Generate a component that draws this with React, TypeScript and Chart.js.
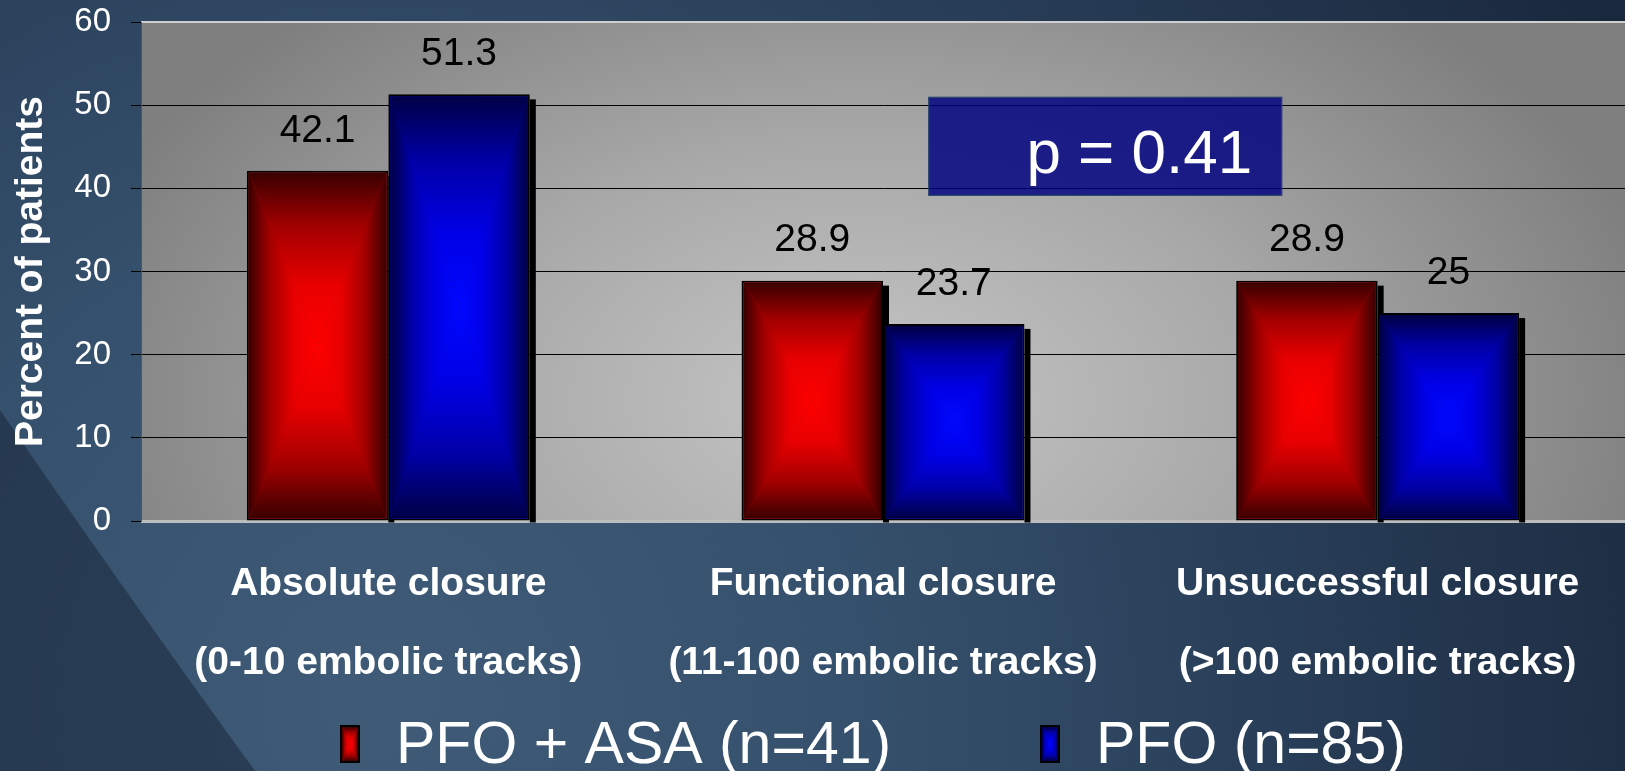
import React, { useEffect, useRef } from 'react';
import { Chart, registerables } from 'chart.js';

Chart.register(...registerables);

// ---------- data ----------
const categories: string[][] = [
  ['Absolute closure', '(0-10 embolic tracks)'],
  ['Functional closure', '(11-100 embolic tracks)'],
  ['Unsuccessful closure', '(>100 embolic tracks)'],
];
const seriesLabels = ['PFO + ASA (n=41)', 'PFO (n=85)'];
const pfoAsaValues = [42.1, 28.9, 28.9];
const pfoValues = [51.3, 23.7, 25];
const yTicks = [0, 10, 20, 30, 40, 50, 60];
const yAxisTitle = 'Percent of patients';
const pValueText = 'p = 0.41';

// ---------- styles ----------
const FONT = "'Liberation Sans', Arial, Helvetica, sans-serif";
const W = 1625;
const H = 771;

const PALETTES = [
  { edge: '#3a0000', mid: '#a00000', inner: '#e80000', center: '#ff0000', solid: '#c00000' },
  { edge: '#000046', mid: '#0000a6', inner: '#0000e6', center: '#0008ff', solid: '#0000c0' },
];

function rectGradient(ctx: CanvasRenderingContext2D, l: number, t: number, r: number, b: number, pal: any) {
  const cx = (l + r) / 2;
  const cy = (t + b) / 2;
  const addStops = (g: CanvasGradient) => {
    g.addColorStop(0, pal.edge);
    g.addColorStop(0.3, pal.mid);
    g.addColorStop(0.65, pal.inner);
    g.addColorStop(1, pal.center);
    return g;
  };
  ctx.save();
  ctx.fillStyle = pal.mid;
  ctx.fillRect(l, t, r - l, b - t);
  const tris: [number, number, number, number, number, number, number, number][] = [
    [l, t, r, t, cx, t, cx, cy],
    [l, b, r, b, cx, b, cx, cy],
    [l, t, l, b, l, cy, cx, cy],
    [r, t, r, b, r, cy, cx, cy],
  ];
  for (const [x1, y1, x2, y2, gx0, gy0, gx1, gy1] of tris) {
    ctx.beginPath();
    ctx.moveTo(x1, y1);
    ctx.lineTo(x2, y2);
    ctx.lineTo(cx, cy);
    ctx.closePath();
    ctx.fillStyle = addStops(ctx.createLinearGradient(gx0, gy0, gx1, gy1));
    ctx.fill();
  }
  ctx.restore();
}

function barRect(el: any) {
  const p = el.getProps(['x', 'y', 'base', 'width'], true);
  return {
    left: p.x - p.width / 2,
    right: p.x + p.width / 2,
    top: Math.min(p.y, p.base),
    bottom: Math.max(p.y, p.base),
    x: p.x,
  };
}

const backgroundPlugin = {
  id: 'slideBackground',
  beforeDraw(chart: any) {
    const { ctx, width, height, chartArea: a } = chart;
    ctx.save();
    const g = ctx.createRadialGradient(380, 700, 0, 380, 700, 1400);
    g.addColorStop(0, '#3f5b77');
    g.addColorStop(0.35, '#35506c');
    g.addColorStop(0.65, '#283d57');
    g.addColorStop(1, '#1a283d');
    ctx.fillStyle = g;
    ctx.fillRect(0, 0, width, height);
    ctx.beginPath();
    ctx.moveTo(0, 410);
    ctx.quadraticCurveTo(120, 585, 255, 771);
    ctx.lineTo(0, 771);
    ctx.closePath();
    ctx.fillStyle = 'rgba(22,34,52,0.5)';
    ctx.fill();

    ctx.beginPath();
    ctx.rect(a.left, a.top, a.right - a.left, a.bottom - a.top);
    ctx.clip();
    const cx = 860, cy = 400, rx = 820, ry = 520;
    ctx.translate(cx, cy);
    ctx.scale(1, ry / rx);
    const pg = ctx.createRadialGradient(0, 0, 0, 0, 0, rx);
    pg.addColorStop(0, '#c6c6c6');
    pg.addColorStop(0.5, '#a8a8a8');
    pg.addColorStop(1, '#7f7f7f');
    ctx.fillStyle = pg;
    ctx.fillRect(-2000, -2000, 4000, 4000);
    ctx.restore();

    ctx.save();
    ctx.fillStyle = '#cfcfcf';
    ctx.fillRect(a.left, a.top - 1, a.right - a.left, 2);
    ctx.fillStyle = '#bdbdbd';
    ctx.fillRect(a.left, a.bottom - 1, a.right - a.left, 3);
    ctx.restore();
  },
};

const barPlugin = {
  id: 'barDecor',
  beforeDatasetsDraw(chart: any) {
    const { ctx } = chart;
    ctx.save();
    ctx.fillStyle = '#000';
    chart.data.datasets.forEach((_: any, di: number) => {
      chart.getDatasetMeta(di).data.forEach((el: any) => {
        const r = barRect(el);
        ctx.fillRect(r.right, r.top + 5, 6, r.bottom + 2 - (r.top + 5));
      });
    });
    ctx.restore();
  },
  afterDatasetsDraw(chart: any) {
    const { ctx, scales } = chart;
    const bw = 2;
    chart.data.datasets.forEach((ds: any, di: number) => {
      chart.getDatasetMeta(di).data.forEach((el: any, i: number) => {
        const r = barRect(el);
        rectGradient(ctx, r.left + bw, r.top + bw, r.right - bw, r.bottom - bw, PALETTES[di]);
        ctx.save();
        ctx.fillStyle = '#000';
        ctx.font = `39px ${FONT}`;
        ctx.textAlign = 'center';
        ctx.textBaseline = 'middle';
        ctx.fillText(String(ds.data[i]), r.x, r.top - 40);
        ctx.restore();
      });
    });

    const x = scales.x;
    const y = scales.y;
    const bl = x.getPixelForDecimal(0.5305);
    const br = x.getPixelForDecimal(0.769);
    const bt = y.getPixelForValue(51.0);
    const bb = y.getPixelForValue(39.1);
    ctx.save();
    ctx.fillStyle = 'rgba(0,0,128,0.83)';
    ctx.fillRect(bl, bt, br - bl, bb - bt);
    ctx.strokeStyle = '#2a4f63';
    ctx.lineWidth = 1;
    ctx.strokeRect(bl + 0.5, bt + 0.5, br - bl - 1, bb - bt - 1);
    ctx.fillStyle = '#fff';
    ctx.font = `62px ${FONT}`;
    ctx.textAlign = 'right';
    ctx.textBaseline = 'alphabetic';
    ctx.fillText(pValueText, br - 30, y.getPixelForValue(41.9));
    ctx.restore();
  },
};

const legendPlugin = {
  id: 'customLegend',
  afterDraw(chart: any) {
    const { ctx } = chart;
    const itemX = [340, 1040];
    const boxW = 20;
    const boxH = 38;
    const boxTop = 725;
    ctx.save();
    chart.data.datasets.forEach((ds: any, di: number) => {
      const x0 = itemX[di];
      ctx.fillStyle = '#000';
      ctx.fillRect(x0, boxTop, boxW, boxH);
      rectGradient(ctx, x0 + 2, boxTop + 2, x0 + boxW - 2, boxTop + boxH - 2, PALETTES[di]);
      ctx.fillStyle = '#fff';
      ctx.font = `59px ${FONT}`;
      ctx.textAlign = 'left';
      ctx.textBaseline = 'alphabetic';
      ctx.fillText(ds.label, x0 + boxW + 36, 763);
    });
    ctx.restore();
  },
};

export default function App() {
  const ref = useRef<HTMLCanvasElement>(null);

  useEffect(() => {
    const canvas = ref.current;
    if (!canvas) return;
    const chart = new Chart(canvas, {
      type: 'bar',
      data: {
        labels: categories as any,
        datasets: [
          {
            label: seriesLabels[0],
            data: pfoAsaValues,
            backgroundColor: PALETTES[0].solid,
            borderColor: '#000',
            borderWidth: 2,
            borderSkipped: false,
            categoryPercentage: 0.572,
            barPercentage: 1,
          },
          {
            label: seriesLabels[1],
            data: pfoValues,
            backgroundColor: PALETTES[1].solid,
            borderColor: '#000',
            borderWidth: 2,
            borderSkipped: false,
            categoryPercentage: 0.572,
            barPercentage: 1,
          },
        ],
      },
      options: {
        responsive: false,
        animation: false,
        layout: { padding: { top: 22, bottom: 70, left: 0, right: 0 } },
        plugins: {
          legend: { display: false },
          tooltip: { enabled: false },
        },
        scales: {
          x: {
            grid: { display: false },
            border: { display: false },
            ticks: {
              color: '#fff',
              font: { family: FONT, size: 39, weight: 'bold', lineHeight: 79 / 39 },
              padding: 16,
              maxRotation: 0,
              autoSkip: false,
            },
            afterFit: (s: any) => {
              s.height = 180;
            },
          },
          y: {
            min: 0,
            max: 60,
            afterBuildTicks: (s: any) => {
              s.ticks = yTicks.map((v) => ({ value: v }));
            },
            ticks: {
              color: '#fff',
              font: { family: FONT, size: 33 },
              padding: 20,
            },
            grid: {
              color: (c: any) =>
                c.tick && (c.tick.value === 0 || c.tick.value === 60) ? 'rgba(0,0,0,0)' : '#000',
              tickColor: '#000',
              tickLength: 10,
              lineWidth: 1,
            },
            border: { display: true, color: '#555', width: 1 },
            title: {
              display: true,
              text: yAxisTitle,
              color: '#fff',
              font: { family: FONT, size: 39, weight: 'bold' },
              padding: { top: 8, bottom: 0 },
            },
            afterFit: (s: any) => {
              s.width = 141;
              s.paddingTop = 0;
              s.paddingBottom = 0;
            },
          },
        },
      } as any,
      plugins: [backgroundPlugin, barPlugin, legendPlugin],
    });
    return () => chart.destroy();
  }, []);

  return (
    <div style={{ position: 'fixed', left: 0, top: 0, width: W, height: H, overflow: 'hidden' }}>
      <canvas ref={ref} width={W} height={H} style={{ display: 'block', width: W, height: H }} />
    </div>
  );
}
